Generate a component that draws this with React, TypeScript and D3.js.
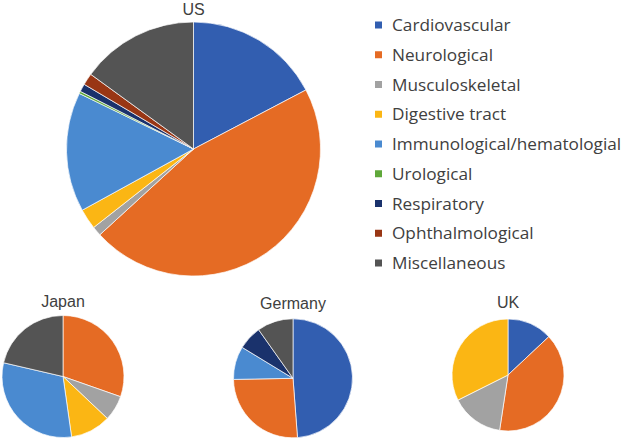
import React from "react";
import * as d3 from "d3";

const categories = [
  "Cardiovascular",
  "Neurological",
  "Musculoskeletal",
  "Digestive tract",
  "Immunological/hematologial",
  "Urological",
  "Respiratory",
  "Ophthalmological",
  "Miscellaneous",
];
const colors = ["#325EB0", "#E56B24", "#A2A2A2", "#FBB614", "#4A8AD0", "#5FA83A", "#1A326C", "#993614", "#545454"];

const usValues = [17.3, 45.9, 1.2, 2.6, 15.2, 0.3, 1.0, 1.5, 15.0];
const japanValues = [0, 30.4, 6.7, 10.7, 30.9, 0, 0, 0, 21.4];
const germanyValues = [48.8, 25.9, 0, 0, 9.0, 0, 6.5, 0, 9.8];
const ukValues = [13.0, 39.4, 15.2, 32.4, 0, 0, 0, 0, 0];

const pies = [
  { title: "US", values: usValues, cx: 193.5, cy: 149, r: 127, ty: 15 },
  { title: "Japan", values: japanValues, cx: 63, cy: 376.5, r: 61, ty: 307 },
  { title: "Germany", values: germanyValues, cx: 293, cy: 378.3, r: 59.5, ty: 309 },
  { title: "UK", values: ukValues, cx: 508, cy: 375, r: 56, ty: 308 },
];

const FONT = "'Open Sans', 'Noto Sans', sans-serif";
const TITLE_FONT = "'Liberation Sans', Arial, sans-serif";
const TEXT = "#404040";

function Pie({ p }: { p: (typeof pies)[number] }) {
  const pie = d3.pie<number>().sort(null).value((d) => d);
  const arcs = pie(p.values);
  const arc = d3.arc<d3.PieArcDatum<number>>().innerRadius(0).outerRadius(p.r);
  return (
    <g>
      <g transform={`translate(${p.cx},${p.cy})`}>
        {arcs.map((a, i) =>
          a.value > 0 ? (
            <path key={i} d={arc(a) || ""} fill={colors[i]} stroke="#ffffff" strokeWidth={0.8} strokeOpacity={0.85} />
          ) : null
        )}
      </g>
      <text x={p.cx} y={p.ty} textAnchor="middle" fontFamily={TITLE_FONT} fontSize={16} fill={TEXT}>
        {p.title}
      </text>
    </g>
  );
}

export default function App() {
  const legendY = d3.scalePoint<string>().domain(categories).range([25, 263]);
  return (
    <svg width={625} height={442} style={{ position: "absolute", left: 0, top: 0, background: "#fff" }}>
      <rect width={625} height={442} fill="#fff" />
      {pies.map((p) => (
        <Pie key={p.title} p={p} />
      ))}
      {categories.map((c, i) => (
        <g key={c} transform={`translate(375,${legendY(c)})`}>
          <rect x={0} y={-3.5} width={7} height={7} fill={colors[i]} />
          <text x={17} y={0} dy="0.36em" fontFamily={FONT} fontSize={17.2} fill={TEXT}>
            {c}
          </text>
        </g>
      ))}
    </svg>
  );
}
